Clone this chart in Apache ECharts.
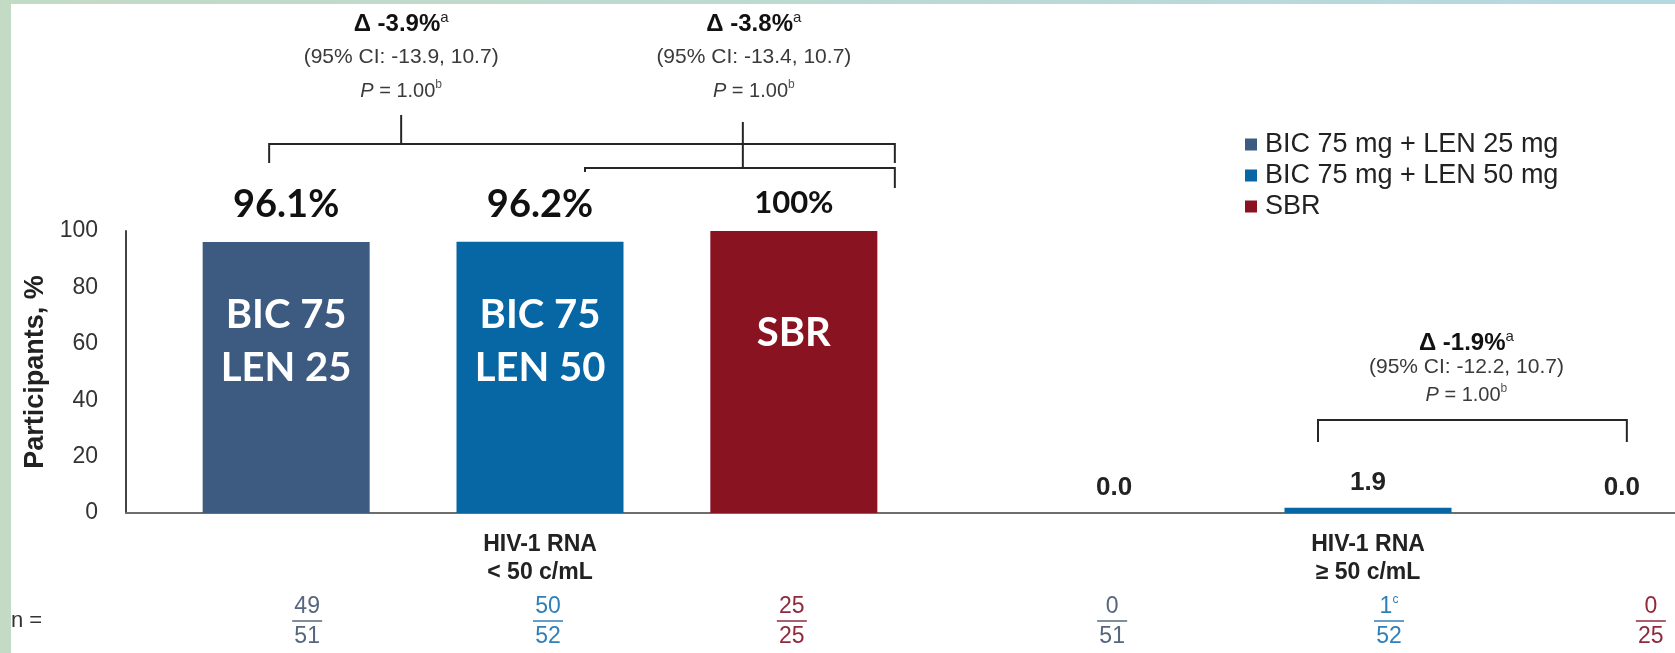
<!DOCTYPE html>
<html>
<head>
<meta charset="utf-8">
<script src="https://cdn.jsdelivr.net/npm/echarts@6/dist/echarts.min.js"></script>
<style>
  html, body { margin: 0; padding: 0; background: #ffffff; }
  #chart { width: 1675px; height: 653px; }
</style>
</head>
<body>
<div id="chart"></div>
<script>
// ---- data ----
const categories = ['HIV-1 RNA\n< 50 c/mL', 'HIV-1 RNA\n≥ 50 c/mL'];
const armNames = ['BIC 75 mg + LEN 25 mg', 'BIC 75 mg + LEN 50 mg', 'SBR'];
const armBarText = [['BIC 75', 'LEN 25'], ['BIC 75', 'LEN 50'], ['SBR']];
const bicLen25 = [96.1, 0.0];
const bicLen50 = [96.2, 1.9];
const sbr = [100, 0.0];
const responders = [[49, 0], [50, 1], [25, 0]];
const totals = [[51, 51], [52, 52], [25, 25]];
const responderNotes = [['', ''], ['', 'c'], ['', '']];
const yTicks = [0, 20, 40, 60, 80, 100];
const deltaLabels = ['Δ -3.9%', 'Δ -3.8%', 'Δ -1.9%'];
const ciLabels = ['(95% CI: -13.9, 10.7)', '(95% CI: -13.4, 10.7)', '(95% CI: -12.2, 10.7)'];
const pLabels = ['1.00', '1.00', '1.00'];

// ---- style ----
const armColors = ['#3d5a80', '#0767a5', '#8a1322'];
const fracColors = ['#56667f', '#2f7fb8', '#8e2a3b'];
const SANS = '"Liberation Sans", Arial, sans-serif';
const CAL = 'Lato, "Liberation Sans", sans-serif';
const BAR_W = 167;
const BAR_GAP = 0.52;

const values = [bicLen25, bicLen50, sbr];

// label for the tall bars: percentage above, arm name inside the bar
function upperLabel(arm, v) {
  const big = arm < 2;
  const lines = armBarText[arm].map(t => `{t|${t}}`).join('\n');
  return {
    show: true,
    position: 'insideTop',
    distance: 0,
    offset: [0, big ? -60 : -48],
    formatter: `{v|${v}%}\n{s| }\n` + lines,
    rich: {
      v: { fontFamily: CAL, fontWeight: 'bold', fontSize: 38, lineHeight: 46, color: '#111111' },
      s: { fontSize: 8, lineHeight: big ? 60.5 : 84 },
      t: { fontFamily: CAL, fontWeight: 'bold', fontSize: 40, lineHeight: 53, color: '#ffffff' }
    }
  };
}

// label for the low bars: value with one decimal above the bar
function lowerLabel(arm, v) {
  return {
    show: true,
    position: 'top',
    distance: v > 0 ? 10 : 10,
    formatter: v.toFixed(1),
    fontFamily: SANS,
    fontWeight: 'bold',
    fontSize: 26,
    lineHeight: 30,
    color: '#222222'
  };
}

const series = values.map((vals, i) => ({
  name: armNames[i],
  type: 'bar',
  barWidth: BAR_W,
  barGap: (BAR_GAP * 100) + '%',
  itemStyle: { color: armColors[i] },
  data: vals.map((v, j) => {
    const item = { value: v, label: j === 0 ? upperLabel(i, v) : lowerLabel(i, v) };
    if (j === 0 && i === 2) {
      item.label.rich.v.fontSize = 31;
      item.label.rich.v.lineHeight = 40;
    }
    return item;
  })
}));

const option = {
  animation: false,
  backgroundColor: '#ffffff',
  grid: {
    left: 126, top: 231, width: 1656, height: 282,
    containLabel: false, outerBoundsMode: 'none'
  },
  legend: {
    orient: 'vertical',
    left: 1245, top: 131,
    padding: 0,
    itemWidth: 12, itemHeight: 12, itemGap: 4,
    icon: 'rect',
    selectedMode: false,
    textStyle: { fontFamily: SANS, fontSize: 27, color: '#222222', padding: [0, 0, 0, 3] },
    data: armNames
  },
  xAxis: {
    type: 'category',
    data: categories,
    axisLine: { lineStyle: { color: '#6e6e6e', width: 2 } },
    axisTick: { show: false },
    axisLabel: {
      interval: 0, margin: 18,
      fontFamily: SANS, fontWeight: 'bold', fontSize: 23, lineHeight: 28, color: '#222222'
    }
  },
  yAxis: {
    type: 'value',
    min: yTicks[0], max: yTicks[yTicks.length - 1], interval: yTicks[1] - yTicks[0],
    name: 'Participants, %',
    nameLocation: 'middle',
    nameGap: 71,
    nameTextStyle: { fontFamily: SANS, fontWeight: 'bold', fontSize: 27, color: '#222222' },
    axisLine: { show: true, lineStyle: { color: '#444444', width: 2 } },
    axisTick: { show: false },
    splitLine: { show: false },
    axisLabel: { margin: 28, fontFamily: SANS, fontSize: 23, color: '#333333' }
  },
  series: series
};

const chart = echarts.init(document.getElementById('chart'));
chart.setOption(option);

// ---- annotations placed from the axes ----
const step = BAR_W * (1 + BAR_GAP);
const cx = (cat, arm) => chart.convertToPixel({ xAxisIndex: 0 }, cat) + (arm - 1) * step;
const yTop = chart.convertToPixel({ yAxisIndex: 0 }, 100);
const yZero = chart.convertToPixel({ yAxisIndex: 0 }, 0);

const ink = { stroke: '#262626', lineWidth: 2, fill: null };
const graphics = [];

// slide frame
graphics.push({ type: 'rect', shape: { x: 0, y: 0, width: 11, height: 653 }, style: { fill: '#c3dbc5' }, z: 0 });
graphics.push({
  type: 'rect', shape: { x: 0, y: 0, width: 1675, height: 4 }, z: 0,
  style: { fill: new echarts.graphic.LinearGradient(0, 0, 1, 0, [{ offset: 0, color: '#c3dbc5' }, { offset: 1, color: '#b5d8e1' }]) }
});

function poly(points) {
  graphics.push({ type: 'polyline', shape: { points }, style: ink, z: 10 });
}

function statBlock(i, x, rows) {
  const sup = { fontFamily: SANS, fontSize: 15, lineHeight: 15, verticalAlign: 'top', fill: '#222222' };
  graphics.push({
    type: 'text', x, y: rows[0], z: 10,
    style: {
      text: `{d|${deltaLabels[i]}}{sup|a}`, align: 'center', verticalAlign: 'middle',
      rich: { d: { fontFamily: SANS, fontWeight: 'bold', fontSize: 24, lineHeight: 28, fill: '#111111', verticalAlign: 'middle' }, sup: sup }
    }
  });
  graphics.push({
    type: 'text', x, y: rows[1], z: 10,
    style: { text: ciLabels[i], align: 'center', verticalAlign: 'middle', fontFamily: SANS, fontSize: 21, fill: '#3a3a3a' }
  });
  graphics.push({
    type: 'text', x, y: rows[2], z: 10,
    style: {
      text: `{pi|P}{pt| = ${pLabels[i]}}{sup|b}`, align: 'center', verticalAlign: 'middle',
      rich: {
        pi: { fontFamily: SANS, fontStyle: 'italic', fontSize: 20, lineHeight: 24, fill: '#3a3a3a', verticalAlign: 'middle' },
        pt: { fontFamily: SANS, fontSize: 20, lineHeight: 24, fill: '#3a3a3a', verticalAlign: 'middle' },
        sup: { fontFamily: SANS, fontSize: 12, lineHeight: 12, verticalAlign: 'top', fill: '#555555' }
      }
    }
  });
}

// BIC 75 + LEN 25 vs SBR
const aL = cx(0, 0) - 17, aR = cx(0, 2) + 101, aY = yTop - 87, aStub = cx(0, 0) + 115;
poly([[aL, yTop - 68], [aL, aY], [aR, aY], [aR, yTop - 68]]);
poly([[aStub, yTop - 116], [aStub, aY]]);
statBlock(0, aStub, [24, 57, 91]);

// BIC 75 + LEN 50 vs SBR
const bL = cx(0, 1) + 45, bR = aR, bY = yTop - 63, bStub = cx(0, 2) - 51;
poly([[bL, yTop - 59], [bL, bY], [bR, bY], [bR, yTop - 43]]);
poly([[bStub, yTop - 109], [bStub, bY]]);
statBlock(1, bStub + 11, [24, 57, 91]);

// BIC 75 + LEN 50 vs SBR, HIV-1 RNA >= 50
const cL = cx(1, 1) - 50, cR = cx(1, 2) + 5, cY = yZero - 93;
poly([[cL, yZero - 71], [cL, cY], [cR, cY], [cR, yZero - 71]]);
statBlock(2, (cL + cR) / 2 - 6, [343, 367, 395]);

// participant counts under each bar
const fracShift = [[21, -2], [8, 21], [-2, 29]];
const numY = 607, barY = 621, denY = 637;
graphics.push({
  type: 'text', x: 11, y: barY, z: 10,
  style: { text: 'n =', align: 'left', verticalAlign: 'middle', fontFamily: SANS, fontSize: 22, fill: '#333333' }
});
for (let arm = 0; arm < 3; arm++) {
  for (let cat = 0; cat < 2; cat++) {
    const x = cx(cat, arm) + fracShift[arm][cat];
    const col = fracColors[arm];
    const note = responderNotes[arm][cat];
    graphics.push({
      type: 'text', x, y: numY, z: 10,
      style: {
        text: `{n|${responders[arm][cat]}}` + (note ? `{sup|${note}}` : ''),
        align: 'center', verticalAlign: 'middle',
        rich: {
          n: { fontFamily: SANS, fontSize: 23, lineHeight: 26, fill: col, verticalAlign: 'middle' },
          sup: { fontFamily: SANS, fontSize: 12, lineHeight: 12, fill: col, verticalAlign: 'top' }
        }
      }
    });
    graphics.push({
      type: 'line', z: 10,
      shape: { x1: x - 15, y1: barY, x2: x + 15, y2: barY },
      style: { stroke: col, lineWidth: 1.5 }
    });
    graphics.push({
      type: 'text', x, y: denY, z: 10,
      style: { text: String(totals[arm][cat]), align: 'center', verticalAlign: 'middle', fontFamily: SANS, fontSize: 23, fill: col }
    });
  }
}

chart.setOption({ graphic: graphics });
</script>
</body>
</html>
